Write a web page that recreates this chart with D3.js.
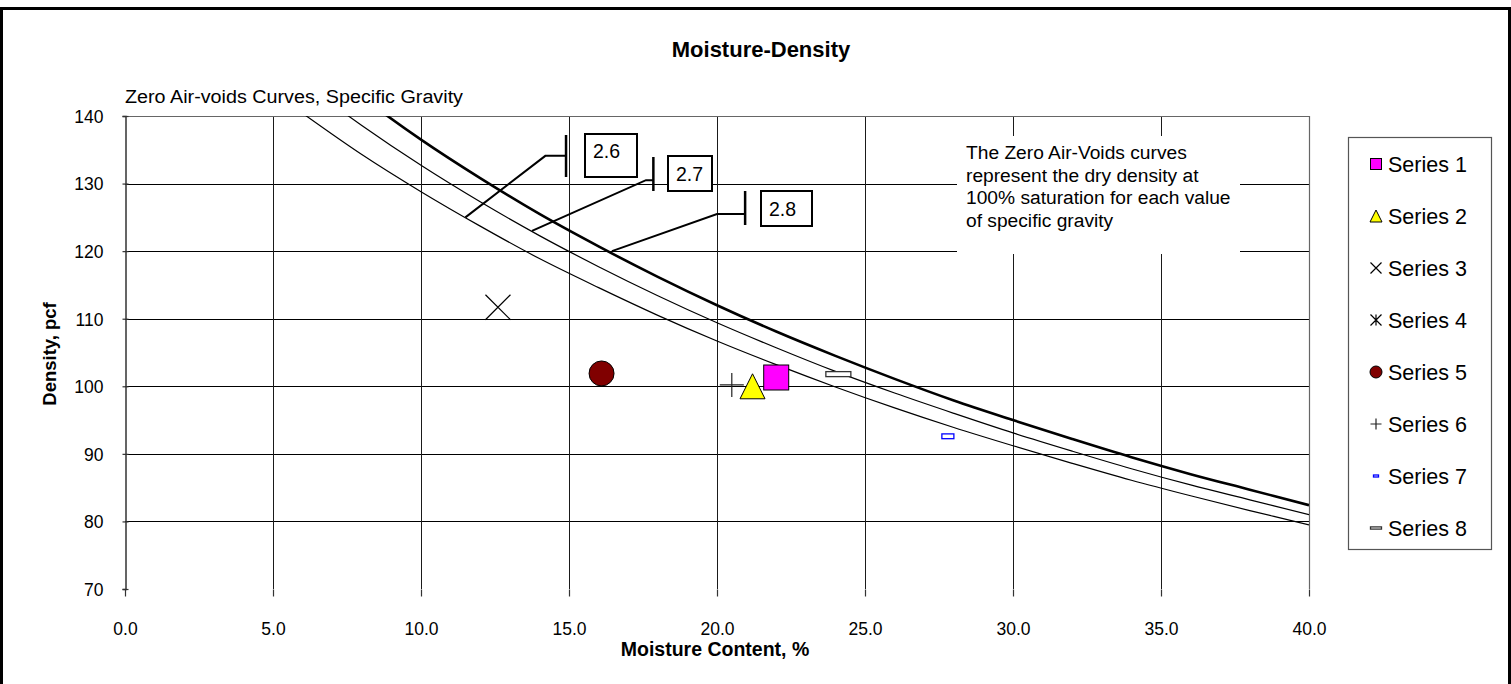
<!DOCTYPE html>
<html>
<head>
<meta charset="utf-8">
<script src="https://cdn.jsdelivr.net/npm/d3@7"></script>
<style>
  html, body { margin: 0; padding: 0; background: #fff; }
  svg { display: block; font-family: Arial, "Liberation Sans", sans-serif; }
</style>
</head>
<body>
<svg id="chart" width="1511" height="684"></svg>
<script>
// Moisture content (%) at which the zero air-voids curves are tabulated
const moisture = [5, 6, 8, 10, 12, 14, 16, 18, 20, 22, 24, 26, 28, 30, 32, 34, 36, 38, 40];
// Dry density at 100% saturation (pcf) for each specific gravity
const zavGs26 = [143.6, 140.4, 134.3, 128.8, 123.7, 118.9, 114.6, 110.5, 106.7, 103.2, 99.9, 96.8, 93.9, 91.2, 88.6, 86.1, 83.8, 81.6, 79.5];
const zavGs27 = [148.4, 145.0, 138.6, 132.7, 127.3, 122.3, 117.7, 113.4, 109.4, 105.7, 102.2, 99.0, 96.0, 93.1, 90.4, 87.8, 85.4, 83.2, 81.0];
const zavGs28 = [153.3, 149.6, 142.8, 136.5, 130.8, 125.5, 120.7, 116.2, 112.0, 108.1, 104.5, 101.1, 97.9, 95.0, 92.2, 89.5, 87.0, 84.7, 82.4];
const gravityLabels = ["2.6", "2.7", "2.8"];

// Test points: moisture content (%) and dry density (pcf)
const seriesNames = ["Series 1", "Series 2", "Series 3", "Series 4", "Series 5", "Series 6", "Series 7", "Series 8"];
const seriesMoisture = [22.0, 21.2, 12.6, null, 16.1, 20.5, 27.8, 24.1];
const seriesDensity  = [101.3, 100.0, 111.7, null, 101.9, 100.2, 92.6, 101.8];

// Axis ticks
const xTicks = [0, 5, 10, 15, 20, 25, 30, 35, 40];
const yTicks = [70, 80, 90, 100, 110, 120, 130, 140];

const svg = d3.select("#chart");
const W = 1511, H = 684;

// outer chart frame
svg.append("rect")
  .attr("x", 1.5).attr("y", 8.5).attr("width", W - 3).attr("height", H + 20)
  .attr("fill", "#fff").attr("stroke", "#000").attr("stroke-width", 3);

const plot = { left: 125, right: 1309, top: 116, bottom: 589 };
const x = d3.scaleLinear().domain([0, 40]).range([plot.left, plot.right]);
const y = d3.scaleLinear().domain([70, 140]).range([plot.bottom, plot.top]);

// gridlines
const grid = svg.append("g");
grid.selectAll("line.h").data(yTicks.filter(v => v > 70 && v < 140)).join("line")
  .attr("x1", plot.left).attr("x2", plot.right)
  .attr("y1", d => Math.round(y(d)) + 0.5).attr("y2", d => Math.round(y(d)) + 0.5)
  .attr("stroke", "#000").attr("stroke-width", 1);
grid.selectAll("line.v").data(xTicks.filter(v => v > 0 && v < 40)).join("line")
  .attr("y1", plot.top).attr("y2", plot.bottom)
  .attr("x1", d => Math.round(x(d)) + 0.5).attr("x2", d => Math.round(x(d)) + 0.5)
  .attr("stroke", "#1a1a1a").attr("stroke-width", 1);

// plot-area border (top and right)
svg.append("path")
  .attr("d", `M${plot.left},${plot.top + 0.5}H${plot.right + 0.5}V${plot.bottom}`)
  .attr("fill", "none").attr("stroke", "#666").attr("stroke-width", 1.2);

// axes
const yAxis = svg.append("g").attr("transform", `translate(${plot.left + 0.5},0)`)
  .call(d3.axisLeft(y).tickValues(yTicks).tickFormat(d3.format("d")).tickSize(3).tickPadding(19));
const xAxis = svg.append("g").attr("transform", `translate(0,${plot.bottom + 0.5})`)
  .call(d3.axisBottom(x).tickValues(xTicks).tickFormat(d3.format(".1f")).tickSize(6).tickPadding(27));
[yAxis, xAxis].forEach(a => {
  a.select(".domain").attr("stroke", "#333").attr("stroke-width", 1.5);
  a.selectAll(".tick line").attr("stroke", "#333").attr("stroke-width", 1.2);
  a.selectAll("text").attr("font-size", 17.5).attr("fill", "#000")
    .attr("font-family", "Arial, 'Liberation Sans', sans-serif");
});
yAxis.selectAll(".tick line").attr("x1", 3);
xAxis.select(".domain").remove();
yAxis.selectAll(".tick text").attr("dy", "0.36em");
xAxis.selectAll(".tick line").attr("y1", 0).attr("y2", 7);

// zero air-voids curves, clipped to the plot area
svg.append("clipPath").attr("id", "plotClip").append("rect")
  .attr("x", plot.left).attr("y", plot.top).attr("width", plot.right - plot.left).attr("height", plot.bottom - plot.top);
const line = d3.line().x(d => x(d[0])).y(d => y(d[1])).curve(d3.curveCatmullRom);
const curves = [
  { values: zavGs26, width: 1.2 },
  { values: zavGs27, width: 1.2 },
  { values: zavGs28, width: 2.6 }
];
svg.append("g").attr("clip-path", "url(#plotClip)")
  .selectAll("path").data(curves).join("path")
  .attr("d", c => line(moisture.map((m, i) => [m, c.values[i]])))
  .attr("fill", "none").attr("stroke", "#000").attr("stroke-width", c => c.width);

// specific gravity callouts: anchor on curve, elbow, then label
const callouts = [
  { at: [11.5, 125.0], elbow: [14.2, 134.1], end: [14.9, 134.1], barTop: 135, barBot: 177, box: [585, 134, 52, 43] },
  { at: [13.75, 123.0], elbow: [17.6, 130.5], end: [17.85, 130.5], barTop: 157, barBot: 191, box: [668, 156, 44, 35] },
  { at: [16.45, 120.0], elbow: [20.0, 125.5], end: [20.95, 125.5], barTop: 191, barBot: 225, box: [761, 191, 51, 35] }
];
const co = svg.append("g");
callouts.forEach((c, i) => {
  co.append("path")
    .attr("d", `M${x(c.at[0])},${y(c.at[1])}L${x(c.elbow[0])},${y(c.elbow[1])}H${x(c.end[0])}`)
    .attr("fill", "none").attr("stroke", "#000").attr("stroke-width", 2);
  co.append("line")
    .attr("x1", x(c.end[0])).attr("x2", x(c.end[0])).attr("y1", c.barTop).attr("y2", c.barBot)
    .attr("stroke", "#000").attr("stroke-width", 2.5);
  co.append("rect")
    .attr("x", c.box[0]).attr("y", c.box[1]).attr("width", c.box[2]).attr("height", c.box[3])
    .attr("fill", "#fff").attr("stroke", "#000").attr("stroke-width", 2);
  co.append("text")
    .attr("x", c.box[0] + 8).attr("y", c.box[1] + (i === 0 ? 24 : c.box[3] / 2 + 7))
    .attr("font-size", 19.5).text(gravityLabels[i]);
});

// explanatory note
const note = svg.append("g");
note.append("rect").attr("x", 957).attr("y", 136).attr("width", 283).attr("height", 118).attr("fill", "#fff");
["The Zero Air-Voids curves", "represent the dry density at", "100% saturation for each value", "of specific gravity"]
  .forEach((t, i) => note.append("text").attr("x", 966).attr("y", 159 + i * 22.5).attr("font-size", 19.2).text(t));

// marker drawing shared by plot and legend
function drawMarker(g, i, s) {
  const h = s / 2;
  switch (i) {
    case 0:
      g.append("rect").attr("x", -h).attr("y", -h).attr("width", s).attr("height", s)
        .attr("fill", "#FF00FF").attr("stroke", "#000").attr("stroke-width", 1); break;
    case 1:
      g.append("path").attr("d", `M0,${-h}L${h},${h}L${-h},${h}Z`)
        .attr("fill", "#FFFF00").attr("stroke", "#000").attr("stroke-width", 1); break;
    case 2:
      g.append("path").attr("d", `M${-h},${-h}L${h},${h}M${h},${-h}L${-h},${h}`)
        .attr("stroke", "#000").attr("stroke-width", 1.2); break;
    case 3:
      g.append("path").attr("d", `M${-h},${-h}L${h},${h}M${h},${-h}L${-h},${h}M0,${-h}V${h}`)
        .attr("stroke", "#000").attr("stroke-width", 1.2); break;
    case 4:
      g.append("circle").attr("r", h).attr("fill", "#800000").attr("stroke", "#000").attr("stroke-width", 1); break;
    case 5:
      g.append("path").attr("d", `M${-h},0H${h}M0,${-h}V${h}`)
        .attr("stroke", "#222").attr("stroke-width", 1.2); break;
    case 6:
      g.append("rect").attr("x", -s / 2).attr("y", -s / 5).attr("width", s).attr("height", s * 0.4)
        .attr("fill", "#fff").attr("stroke", "#0000FF").attr("stroke-width", 1.3); break;
    case 7:
      g.append("rect").attr("x", -s / 2).attr("y", -s / 10).attr("width", s).attr("height", s * 0.2)
        .attr("fill", "#fff").attr("stroke", "#333").attr("stroke-width", 1.3); break;
  }
}

// data points
const plotSizes = [25, 25, 25, 25, 25, 24, 12, 25];
const pts = svg.append("g");
seriesNames.forEach((name, i) => {
  if (seriesMoisture[i] == null) return;
  const g = pts.append("g").attr("transform", `translate(${x(seriesMoisture[i])},${y(seriesDensity[i])})`);
  drawMarker(g, i, plotSizes[i]);
});

// legend
const legendSizes = [11, 12, 11, 11, 12, 11, 5, 11];
const legend = svg.append("g");
legend.append("rect").attr("x", 1348.5).attr("y", 137.5).attr("width", 143).attr("height", 412)
  .attr("fill", "#fff").attr("stroke", "#555").attr("stroke-width", 1.2);
seriesNames.forEach((name, i) => {
  const cy = 164 + i * 52;
  const g = legend.append("g").attr("transform", `translate(1376,${cy})`);
  drawMarker(g, i, legendSizes[i]);
  legend.append("text").attr("x", 1388).attr("y", cy + 7.5).attr("font-size", 21.5).text(name);
});

// titles
svg.append("text").attr("x", 761).attr("y", 57).attr("text-anchor", "middle")
  .attr("font-size", 22).attr("font-weight", "bold").text("Moisture-Density");
svg.append("text").attr("x", 125).attr("y", 103).attr("font-size", 18)
  .attr("textLength", 338).attr("lengthAdjust", "spacingAndGlyphs")
  .text("Zero Air-voids Curves, Specific Gravity");
svg.append("text").attr("x", 715).attr("y", 656).attr("text-anchor", "middle")
  .attr("font-size", 19.5).attr("font-weight", "bold").text("Moisture Content, %");
svg.append("text").attr("transform", "translate(56,354) rotate(-90)").attr("text-anchor", "middle")
  .attr("font-size", 18.5).attr("font-weight", "bold").text("Density, pcf");
</script>
</body>
</html>
